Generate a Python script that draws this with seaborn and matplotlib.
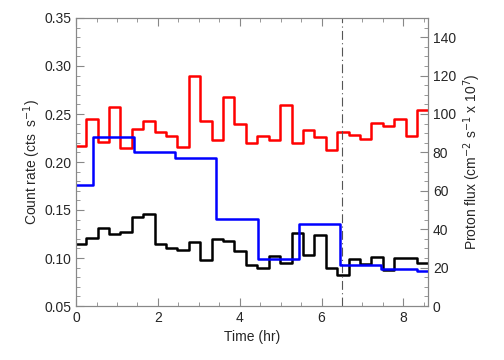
import numpy as np
import pandas as pd
import seaborn as sns
import matplotlib.pyplot as plt
from matplotlib.ticker import MultipleLocator

# time bins of ~1000 s (in hours), first one starts just before t=0
bin_start = -0.034
bin_width = 0.279

# count rate in the upper band (red) and lower band (black), cts/s
red_rate = [0.217, 0.245, 0.221, 0.257, 0.215, 0.234, 0.243, 0.231, 0.227, 0.216,
            0.290, 0.243, 0.223, 0.268, 0.240, 0.220, 0.227, 0.223, 0.259, 0.220,
            0.233, 0.226, 0.213, 0.231, 0.228, 0.224, 0.241, 0.238, 0.245, 0.227,
            0.254]
black_rate = [0.115, 0.121, 0.131, 0.125, 0.127, 0.143, 0.146, 0.115, 0.110, 0.108,
              0.117, 0.098, 0.120, 0.118, 0.107, 0.093, 0.090, 0.102, 0.095, 0.126,
              0.103, 0.124, 0.090, 0.082, 0.099, 0.094, 0.101, 0.087, 0.100, 0.100,
              0.095]

# proton flux (cm^-2 s^-1 x 10^7), coarser bins
flux_edges = [0.0, 0.42, 1.42, 2.42, 3.43, 4.45, 5.44, 6.44, 7.45, 8.34, 8.6]
flux = [62.8, 88.1, 80.4, 77.0, 45.2, 24.7, 42.5, 21.5, 19.1, 18.2]

t_mark = 6.5


def step_frame(edges, values):
    # repeat the last value at the closing edge so steps-post draws the last bin
    return pd.DataFrame({'t': list(edges), 'v': list(values) + [values[-1]]})


edges = bin_start + bin_width * np.arange(len(red_rate) + 1)
red_df = step_frame(edges, red_rate)
black_df = step_frame(edges, black_rate)
flux_df = step_frame(flux_edges, flux)

sns.set_style('ticks')
plt.rcParams['font.family'] = ['Liberation Sans', 'DejaVu Sans']
plt.rcParams['font.size'] = 10

fig = plt.figure(figsize=(5.04, 3.6), dpi=100)
ax = fig.add_axes([0.151, 0.15, 0.698, 0.80])

sns.lineplot(data=red_df, x='t', y='v', ax=ax, color='#ff0000', lw=1.8,
             drawstyle='steps-post', estimator=None)
sns.lineplot(data=black_df, x='t', y='v', ax=ax, color='black', lw=1.8,
             drawstyle='steps-post', estimator=None)
ax.axvline(t_mark, color='#555555', lw=0.8, ls=(0, (8, 3, 1, 3)))

ax.set_xlim(0, 8.6)
ax.set_ylim(0.05, 0.35)
ax.set_xlabel('Time (hr)')
ax.set_ylabel('Count rate (cts  s$^{-1}$)', labelpad=1)
ax.xaxis.set_major_locator(MultipleLocator(2))
ax.xaxis.set_minor_locator(MultipleLocator(0.5))
ax.yaxis.set_major_locator(MultipleLocator(0.05))
ax.yaxis.set_minor_locator(MultipleLocator(0.01))
ax.yaxis.set_major_formatter(plt.FormatStrFormatter('%.2f'))
ax.tick_params(which='both', direction='in', top=True, color='#888888')
ax.tick_params(which='major', length=6)
ax.tick_params(which='minor', length=3)

ax2 = ax.twinx()
sns.lineplot(data=flux_df, x='t', y='v', ax=ax2, color='#0000ff', lw=1.8,
             drawstyle='steps-post', estimator=None)
ax2.set_ylim(0, 150)
ax2.set_xlim(0, 8.6)
ax2.set_ylabel('Proton flux (cm$^{-2}$ s$^{-1}$ x 10$^{7}$)')
ax2.yaxis.set_major_locator(MultipleLocator(20))
ax2.yaxis.set_minor_locator(MultipleLocator(5))
ax2.tick_params(which='both', direction='in', color='#888888')
ax2.tick_params(which='major', length=6)
ax2.tick_params(which='minor', length=3)

for a in (ax, ax2):
    for s in a.spines.values():
        s.set_color('#888888')
        s.set_linewidth(0.8)

fig.savefig('out.png', dpi=100)
